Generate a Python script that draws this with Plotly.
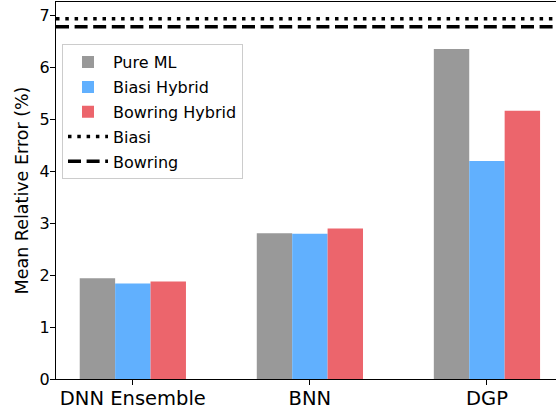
import plotly.graph_objects as go

categories = ["DNN Ensemble", "BNN", "DGP"]
pure_ml = [1.94, 2.81, 6.36]
biasi_hybrid = [1.84, 2.80, 4.20]
bowring_hybrid = [1.88, 2.90, 5.17]
biasi_ref = 6.94
bowring_ref = 6.79
y_ticks = [0, 1, 2, 3, 4, 5, 6, 7]

font = "DejaVu Sans"
colors = {"Pure ML": "#999999", "Biasi Hybrid": "#61b0fe", "Bowring Hybrid": "#ec656c"}

fig = go.Figure()
xpos = list(range(len(categories)))
for i, (name, vals) in enumerate([("Pure ML", pure_ml), ("Biasi Hybrid", biasi_hybrid),
                                  ("Bowring Hybrid", bowring_hybrid)]):
    fig.add_trace(go.Bar(x=xpos, y=vals, name=name, marker_color=colors[name],
                         marker_line_width=0, legendgroup=f"g{i}"))

fig.add_shape(type="line", xref="paper", x0=0, x1=1, yref="y", y0=biasi_ref, y1=biasi_ref,
              line=dict(color="black", width=3.5, dash="3.5px,5.8px"),
              showlegend=True, name="Biasi", legendgroup="g3", legendrank=1004)
fig.add_shape(type="line", xref="paper", x0=0, x1=1, yref="y", y0=bowring_ref, y1=bowring_ref,
              line=dict(color="black", width=3.5, dash="13px,5.6px"),
              showlegend=True, name="Bowring", legendgroup="g4", legendrank=1005)

fig.update_layout(
    width=556, height=413,
    margin=dict(l=56, r=0, t=2, b=34),
    plot_bgcolor="white", paper_bgcolor="white",
    barmode="group", bargap=0.4, bargroupgap=0,
    font=dict(family=font, color="black"),
    showlegend=True,
    legend=dict(x=0.012, y=0.888, xanchor="left", yanchor="top",
                bgcolor="rgba(255,255,255,0.8)", bordercolor="#cccccc", borderwidth=1,
                font=dict(size=16, family=font), traceorder="grouped", tracegroupgap=1,
                itemwidth=40),
    xaxis=dict(range=[-0.434, 2.39], tickvals=xpos, ticktext=categories,
               tickfont=dict(size=19.5), showline=True, linecolor="black", linewidth=1.2,
               mirror=True, ticks="outside", ticklen=5, tickcolor="black",
               ticklabelstandoff=-4,
               showgrid=False, zeroline=False),
    yaxis=dict(range=[0, 7.265], tickvals=y_ticks, tickfont=dict(size=16),
               showline=True, linecolor="black", linewidth=1.2, ticks="outside",
               ticklen=5, tickcolor="black", showgrid=False, zeroline=False,
               ticklabelstandoff=-3,
               title=dict(text="Mean Relative Error (%)", font=dict(size=17.5), standoff=6)),
)

fig.write_html("out.html", config={"displayModeBar": False},
               post_script="document.body.style.margin='0px';")
